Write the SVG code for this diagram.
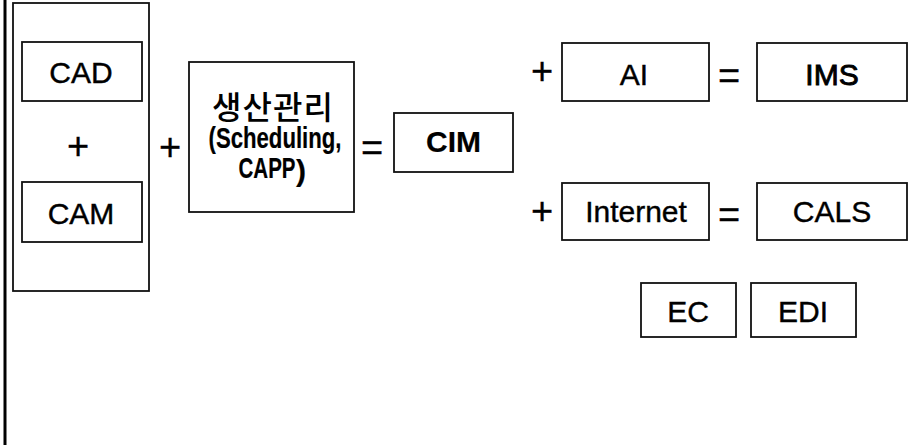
<svg xmlns="http://www.w3.org/2000/svg" width="911" height="445" viewBox="0 0 911 445">
<style>
.box{fill:#fff;stroke:#111;stroke-width:1.8}
.t{font-family:"Liberation Sans",Arial,sans-serif;font-size:30px;fill:#000;stroke:#000;stroke-width:0.4;text-anchor:middle}
.b{font-weight:bold;stroke-width:0.2}
.op{font-family:"Liberation Sans",Arial,sans-serif;font-size:38px;fill:#000;stroke:#000;stroke-width:0.3;text-anchor:middle}
.ko{font-family:"Noto Sans CJK KR","Noto Sans",sans-serif;font-size:32px;font-weight:500;fill:#000;text-anchor:middle}
</style>
<rect width="911" height="445" fill="#fff"/>
<line x1="5" y1="0" x2="5" y2="445" stroke="#000" stroke-width="3"/>
<g id="group-cadcam"><rect class="box" x="13" y="3" width="136" height="288"/></g>
<g id="cad"><rect class="box" x="22" y="42" width="120" height="59"/><text class="t" x="81" y="83">CAD</text></g>
<g id="cam"><rect class="box" x="22" y="182" width="120" height="60"/><text class="t" x="81" y="224">CAM</text></g>
<g id="prod"><rect class="box" x="189" y="62" width="165" height="150"/>
<text class="ko" x="273" y="119" letter-spacing="1">생산관리</text>
<text class="t b" x="275" y="148" font-size="20" textLength="133" lengthAdjust="spacingAndGlyphs">(Scheduling,</text>
<text class="t b" x="267" y="178" font-size="19" textLength="57" lengthAdjust="spacingAndGlyphs">CAPP</text>
<text class="t b" x="301" y="181" font-size="27">)</text>
</g>
<g id="cim"><rect class="box" x="394" y="113" width="119" height="59"/><text class="t b" x="453.5" y="152" font-size="30">CIM</text></g>
<g id="ai"><rect class="box" x="562" y="43" width="147" height="58"/><text class="t" x="634" y="85">AI</text></g>
<g id="ims"><rect class="box" x="757" y="43" width="150" height="58"/><text class="t" x="832" y="85" style="stroke-width:0.9">IMS</text></g>
<g id="internet"><rect class="box" x="562" y="183" width="147" height="57"/><text class="t" x="636" y="222">Internet</text></g>
<g id="cals"><rect class="box" x="757" y="183" width="150" height="57"/><text class="t" x="832" y="222">CALS</text></g>
<g id="ec"><rect class="box" x="641" y="283" width="95" height="54"/><text class="t" x="688" y="322">EC</text></g>
<g id="edi"><rect class="box" x="751" y="283" width="105" height="54"/><text class="t" x="803" y="322">EDI</text></g>
<g id="connectors">
<text class="op" x="78" y="159">+</text>
<text class="op" x="170" y="160">+</text>
<text class="op" x="372" y="161">=</text>
<text class="op" x="542" y="84">+</text>
<text class="op" x="729" y="89">=</text>
<text class="op" x="542" y="224">+</text>
<text class="op" x="729" y="228">=</text>
</g>
</svg>
